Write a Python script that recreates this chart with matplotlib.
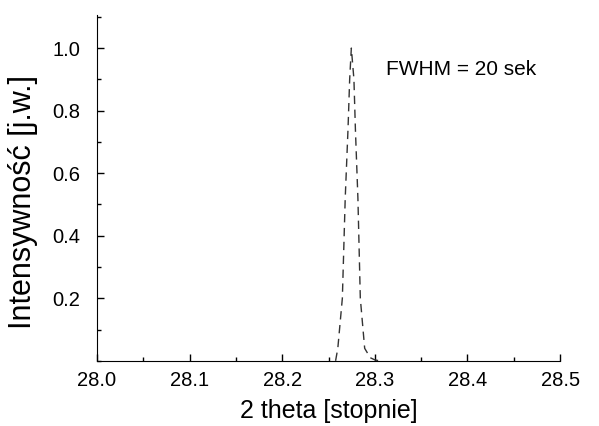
import numpy as np
import matplotlib.pyplot as plt
from matplotlib.ticker import MultipleLocator

# peak profile
theta = [28.2576, 28.2600, 28.2649, 28.2680, 28.2710, 28.2728, 28.2746,
         28.2774, 28.2790, 28.2817, 28.2843, 28.2890, 28.2950, 28.3000, 28.3050]
intensity = [0.0, 0.04, 0.20, 0.52, 0.74, 0.90, 1.00,
             0.90, 0.74, 0.52, 0.20, 0.04, 0.01, 0.003, 0.0]

x_ticks = [28.0, 28.1, 28.2, 28.3, 28.4, 28.5]
y_ticks = [0.2, 0.4, 0.6, 0.8, 1.0]

plt.rcParams['font.family'] = ['Liberation Sans', 'DejaVu Sans']

fig = plt.figure(figsize=(5.99, 4.26), dpi=100)
ax = fig.add_axes([0.162, 0.153, 0.773, 0.812])

ax.plot(theta, intensity, color='#333333', linestyle=(0, (6, 4)), linewidth=1.0)

ax.set_xlim(28.0, 28.5)
ax.set_ylim(0, 1.106)
ax.set_xticks(x_ticks)
ax.set_yticks(y_ticks)
ax.xaxis.set_minor_locator(MultipleLocator(0.05))
ax.yaxis.set_minor_locator(MultipleLocator(0.1))
ax.tick_params(which='both', direction='in', labelsize=14.5, width=1.0)
ax.tick_params(which='major', length=5)
ax.tick_params(which='minor', length=3)
ax.tick_params(axis='y', pad=12)
ax.tick_params(axis='x', pad=7)

for s in ['top', 'right']:
    ax.spines[s].set_visible(False)

ax.set_xlabel('2 theta [stopnie]', fontsize=18, labelpad=7)
ax.set_ylabel('Intensywność [j.w.]', fontsize=22)
ax.yaxis.set_label_coords(-0.127, 0.46)
ax.text(28.312, 0.93, 'FWHM = 20 sek', fontsize=15, va='center')

fig.savefig('out.png', dpi=100)
